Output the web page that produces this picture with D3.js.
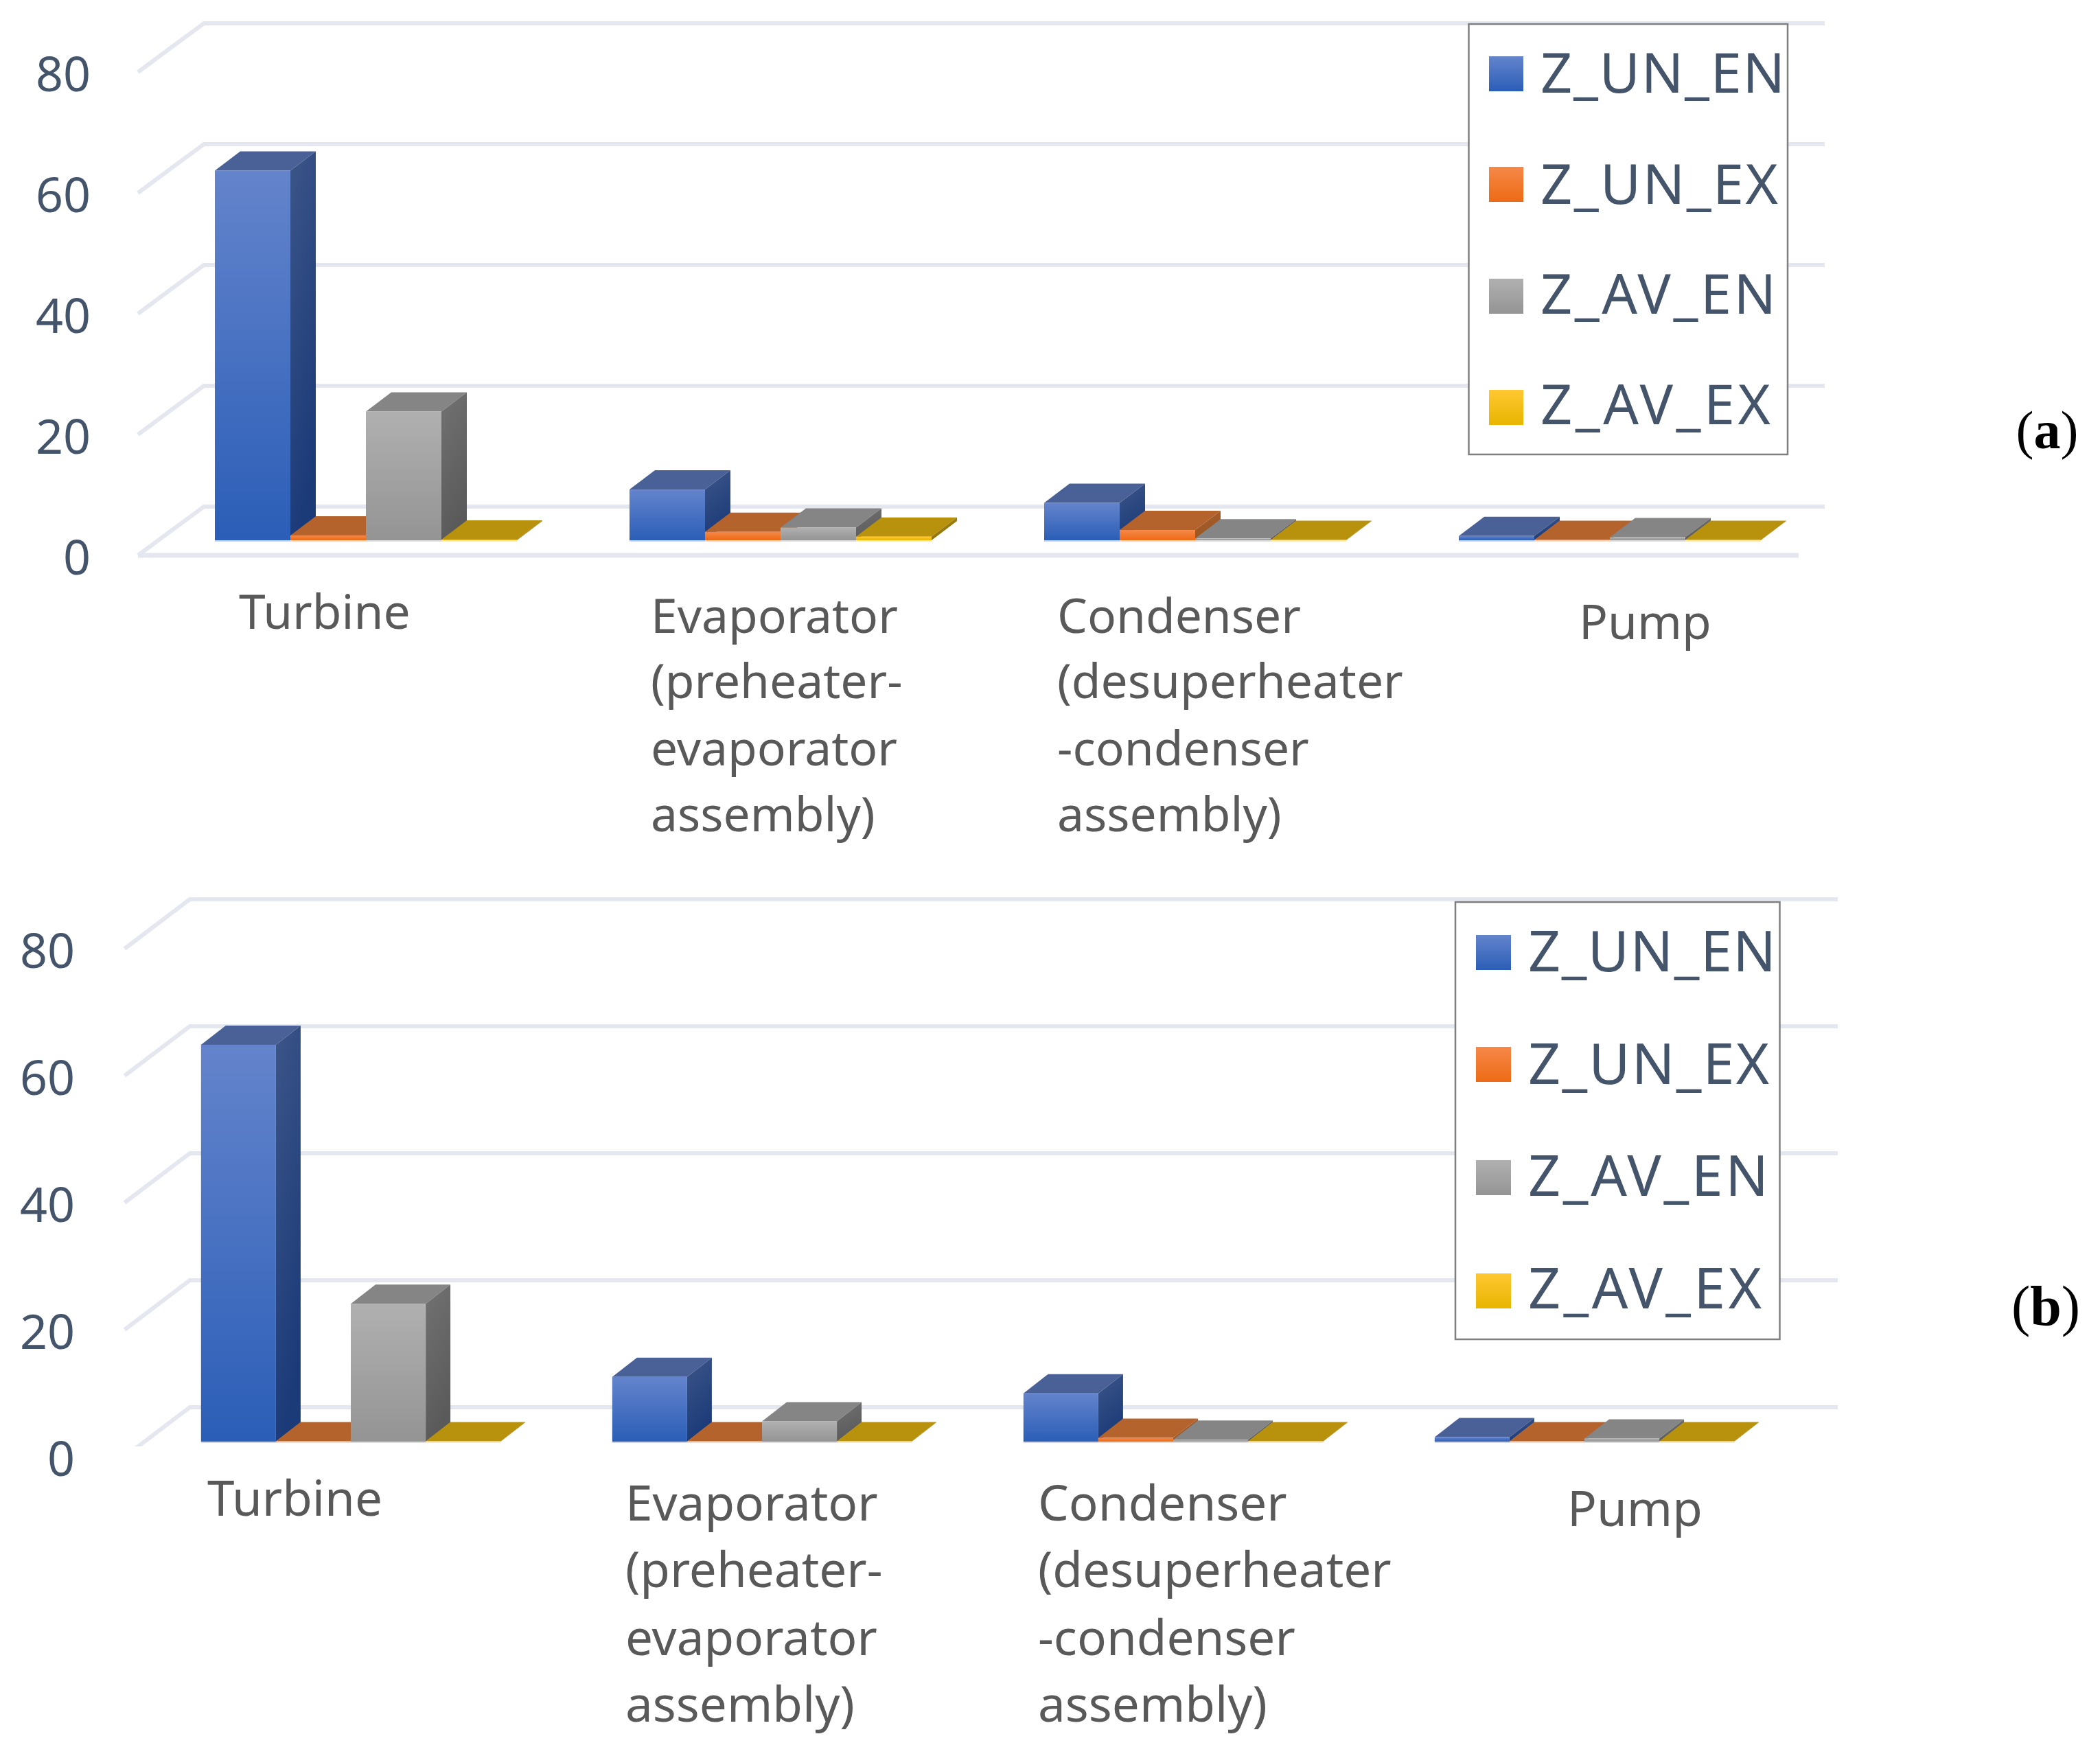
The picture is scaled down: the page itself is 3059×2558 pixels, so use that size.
<!DOCTYPE html>
<html>
<head>
<meta charset="utf-8">
<script src="https://cdn.jsdelivr.net/npm/d3@7"></script>
<style>
  body { margin: 0; background: #fff; }
  text { font-family: "Noto Sans", sans-serif; }
</style>
</head>
<body>
<svg id="chart"></svg>
<script>
const width = 3059;
const height = 2558;

// data
const categories = ["Turbine", "Evaporator", "Condenser", "Pump"];
const categoryLines = [
  ["Turbine"],
  ["Evaporator", "(preheater-", "evaporator", "assembly)"],
  ["Condenser", "(desuperheater", "-condenser", "assembly)"],
  ["Pump"]
];
const seriesNames = ["Z_UN_EN", "Z_UN_EX", "Z_AV_EN", "Z_AV_EX"];
const tickValues = [0, 20, 40, 60, 80];

// panel (a), one array per series
const unEnA = [61.2, 8.4, 6.2, 0.7];
const unExA = [0.8, 1.4, 1.7, 0.05];
const avEnA = [21.3, 2.1, 0.3, 0.5];
const avExA = [0.1, 0.6, 0.05, 0.05];

// panel (b)
const unEnB = [62.5, 10.2, 7.6, 0.7];
const unExB = [0.05, 0.05, 0.6, 0.05];
const avEnB = [21.7, 3.2, 0.3, 0.5];
const avExB = [0.05, 0.05, 0.05, 0.05];

// face colours per series
const frontTop = ["#6484cc", "#f68849", "#b0b0b0", "#ffc732"];
const frontBottom = ["#2b5eb7", "#ec6a14", "#949494", "#e8b500"];
const topFace = ["#4a6197", "#b5632d", "#858585", "#b8920c"];
const sideTop = ["#3d5689", "#a8602f", "#727272", "#a08212"];
const sideBottom = ["#1b3a78", "#9a5520", "#5a5a5a", "#8f7408"];
const haloColor = ["#c9d6ee", "#fbd9c3", "#dedede", "#fbeab8"];

const tickColor = "#44546a";
const labelColor = "#595959";
const gridColor = "#e4e7ef";

const panelA = {
  id: "a",
  values: [unEnA, unExA, avEnA, avExA],
  bandRange: [231, 2647],
  base: 787,
  unit: 8.8,
  frontDx: 30, frontDy: 22,
  backDx: 66, backDy: 49,
  gridEnd: 2658,
  floorEnd: 2620,
  clipBottom: 830,
  depthDx: 37, depthDy: 28,
  tickX: 132,
  tickShift: 27,
  tickSize: 70,
  labelSize: 69.5,
  labelX: [348, 948, 1540, 2300],
  labelY: [[916], [922, 1017, 1115, 1211], [922, 1017, 1115, 1211], [931]],
  legend: { x: 2139.5, y: 35, w: 464.5, h: 627, swatchX: 2169, swatchW: 50, swatchY: [82, 243, 406, 568], swatchH: 51, textX: 2244, textY: [135, 297, 457, 618], textW: [356, 346, 343, 335], size: 81 },
  tag: { x: 2982, y: 653, size: 78 }
};

const panelB = {
  id: "b",
  values: [unEnB, unExB, avEnB, avExB],
  bandRange: [211.5, 2607.5],
  base: 2100,
  unit: 9.25,
  frontDx: 30, frontDy: 22,
  backDx: 65, backDy: 50,
  gridEnd: 2677,
  floorEnd: 2620,
  clipBottom: 2107,
  depthDx: 36, depthDy: 28,
  tickX: 109,
  tickShift: 27,
  tickSize: 70,
  labelSize: 71,
  labelX: [302, 911, 1512, 2283],
  labelY: [[2208], [2215, 2312, 2411, 2508], [2215, 2312, 2411, 2508], [2223]],
  legend: { x: 2120, y: 1314, w: 472.5, h: 637, swatchX: 2150, swatchW: 51, swatchY: [1362, 1525, 1690, 1855], swatchH: 51, textX: 2226, textY: [1415, 1579, 1742, 1906], textW: [361, 351, 350, 340], size: 82.5 },
  tag: { x: 2980, y: 1930, size: 82 }
};

const svg = d3.select("#chart")
  .attr("width", width)
  .attr("height", height)
  .attr("viewBox", [0, 0, width, height]);

svg.append("rect").attr("width", width).attr("height", height).attr("fill", "#fff");

const defs = svg.append("defs");

//vertical gradients for the front faces, diagonal ones for the sides
const addGradient = (id, c1, c2, x2) => {
  const g = defs.append("linearGradient")
    .attr("id", id)
    .attr("x1", 0).attr("y1", 0)
    .attr("x2", x2).attr("y2", 1);
  g.append("stop").attr("offset", 0).attr("stop-color", c1);
  g.append("stop").attr("offset", 1).attr("stop-color", c2);
};
seriesNames.forEach((s, i) => {
  addGradient("front" + i, frontTop[i], frontBottom[i], 0);
  addGradient("side" + i, sideTop[i], sideBottom[i], 0.3);
});

const poly = d3.line();

const drawPanel = (p) => {
  const g = svg.append("g").attr("class", "panel-" + p.id);

  const x0 = d3.scaleBand()
    .domain(categories)
    .range(p.bandRange)
    .paddingInner(0.2715)
    .paddingOuter(0.13575);

  const x1 = d3.scaleBand()
    .domain(seriesNames)
    .range([0, x0.bandwidth()]);

  const y = d3.scaleLinear()
    .domain([0, 80])
    .range([p.base, p.base - 80 * p.unit]);

  //walls and floor
  const left = p.bandRange[0];
  defs.append("clipPath").attr("id", "clip-" + p.id)
    .append("rect")
    .attr("x", 0).attr("y", 0)
    .attr("width", width).attr("height", p.clipBottom);

  const grid = g.append("g").attr("clip-path", `url(#clip-${p.id})`);
  grid.selectAll("path")
    .data(tickValues)
    .join("path")
    .attr("fill", "none")
    .attr("stroke", gridColor)
    .attr("stroke-width", 6)
    .attr("d", t => poly([
      [left - p.frontDx, y(t) + p.frontDy],
      [left + p.backDx, y(t) - p.backDy],
      [p.gridEnd, y(t) - p.backDy]
    ]));
  grid.append("path")
    .attr("fill", "none")
    .attr("stroke", gridColor)
    .attr("stroke-width", 7)
    .attr("d", poly([[left - p.frontDx, y(0) + p.frontDy], [p.floorEnd, y(0) + p.frontDy]]));

  //y axis labels sit on the front edge of the floor
  const axis = g.append("g")
    .attr("transform", `translate(${p.tickX},${p.tickShift})`)
    .call(d3.axisLeft(y).tickValues(tickValues).tickSize(0).tickPadding(0));
  axis.select(".domain").remove();
  axis.selectAll("text")
    .attr("fill", tickColor)
    .attr("font-size", p.tickSize)
    .attr("font-family", '"Noto Sans", sans-serif');

  //3d bars, drawn left to right so each front hides the previous side
  const rows = categories.flatMap((c, ci) =>
    seriesNames.map((s, si) => ({ c, ci, s, si, v: p.values[si][ci] })));

  const bars = g.append("g").selectAll("g")
    .data(rows)
    .join("g");

  const barLeft = d => x0(d.c) + x1(d.s);
  const barRight = d => barLeft(d) + x1.bandwidth();

  bars.append("path")
    .attr("fill", d => topFace[d.si])
    .attr("d", d => poly([
      [barLeft(d), y(d.v)],
      [barRight(d), y(d.v)],
      [barRight(d) + p.depthDx, y(d.v) - p.depthDy],
      [barLeft(d) + p.depthDx, y(d.v) - p.depthDy]
    ]) + "Z");

  bars.append("path")
    .attr("fill", d => `url(#side${d.si})`)
    .attr("d", d => poly([
      [barRight(d), y(d.v)],
      [barRight(d) + p.depthDx, y(d.v) - p.depthDy],
      [barRight(d) + p.depthDx, y(0) - p.depthDy],
      [barRight(d), y(0)]
    ]) + "Z");

  bars.append("rect")
    .attr("x", barLeft)
    .attr("y", d => y(d.v))
    .attr("width", x1.bandwidth())
    .attr("height", d => y(0) - y(d.v))
    .attr("fill", d => `url(#front${d.si})`);

  //pale edge along the foot of every bar
  bars.append("path")
    .attr("stroke", d => haloColor[d.si])
    .attr("stroke-width", 2)
    .attr("fill", "none")
    .attr("d", d => poly([[barLeft(d), y(0) + 1], [barRight(d), y(0) + 1]]));

  //category labels
  g.append("g").selectAll("text")
    .data(categoryLines.flatMap((lines, ci) => lines.map((t, li) => ({ t, ci, li }))))
    .join("text")
    .attr("x", d => p.labelX[d.ci])
    .attr("y", d => p.labelY[d.ci][d.li])
    .attr("fill", labelColor)
    .attr("font-size", p.labelSize)
    .text(d => d.t);

  //legend box covers the wall lines
  const l = p.legend;
  const legend = g.append("g");
  legend.append("rect")
    .attr("x", l.x).attr("y", l.y)
    .attr("width", l.w).attr("height", l.h)
    .attr("fill", "#fff")
    .attr("stroke", "#7f7f7f")
    .attr("stroke-width", 2.5);
  legend.selectAll("rect.swatch")
    .data(seriesNames)
    .join("rect")
    .attr("class", "swatch")
    .attr("x", l.swatchX)
    .attr("y", (d, i) => l.swatchY[i])
    .attr("width", l.swatchW)
    .attr("height", l.swatchH)
    .attr("fill", (d, i) => `url(#front${i})`);
  legend.selectAll("text")
    .data(seriesNames)
    .join("text")
    .attr("x", l.textX)
    .attr("y", (d, i) => l.textY[i])
    .attr("fill", tickColor)
    .attr("font-size", l.size)
    .attr("textLength", (d, i) => l.textW[i])
    .attr("lengthAdjust", "spacing")
    .text(d => d);

  //panel tag, bold letter between plain brackets
  const tag = g.append("text")
    .attr("x", p.tag.x)
    .attr("y", p.tag.y)
    .attr("text-anchor", "middle")
    .attr("font-size", p.tag.size)
    .style("font-family", '"Liberation Serif", serif')
    .attr("fill", "#000");
  tag.append("tspan").text("(");
  tag.append("tspan").attr("font-weight", "bold").text(p.id);
  tag.append("tspan").text(")");
};

drawPanel(panelA);
drawPanel(panelB);
</script>
</body>
</html>
